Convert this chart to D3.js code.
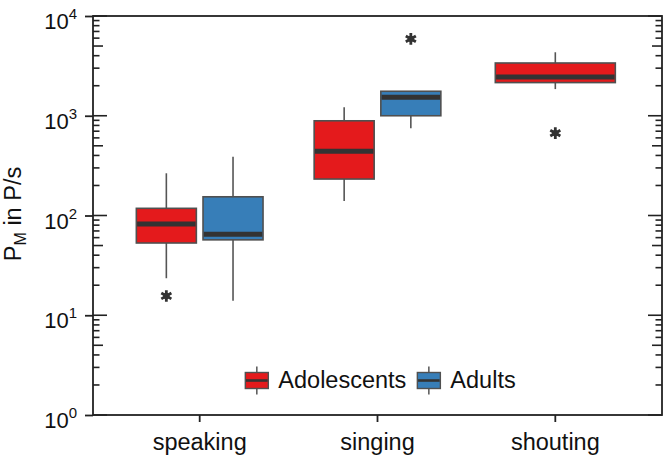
<!DOCTYPE html>
<html><head><meta charset="utf-8">
<script src="https://cdn.jsdelivr.net/npm/d3@7"></script>
<style>body{margin:0;background:#fff}svg{display:block}</style>
</head><body>
<svg id="chart" width="666" height="458"></svg>
<script>
// ---- data ----
const categories = ["speaking", "singing", "shouting"];
const groups = ["Adolescents", "Adults"];
const groupColors = ["#E41A1C", "#377EB8"];
const boxCategory = ["speaking", "speaking", "singing", "singing", "shouting"];
const boxGroup = ["Adolescents", "Adults", "Adolescents", "Adults", "Adolescents"];
const whiskerLow = [23.5, 14, 140, 750, 1850];
const q1 = [53, 57, 232, 1000, 2150];
const median = [82, 65, 440, 1530, 2450];
const q3 = [118, 154, 890, 1760, 3380];
const whiskerHigh = [265, 388, 1215, 1760, 4330];
const outlierBox = [0, 3, 4];
const outlierValue = [15.6, 5900, 670];
const yTickValues = [1, 10, 100, 1000, 10000];
const yTickBase = "10";
const yTickExponents = ["0", "1", "2", "3", "4"];
const yTitleMain = "P", yTitleSub = "M", yTitleRest = " in P/s";

(function () {
// ---- layout ----
const W = 666, H = 458;
const pL = 93, pR = 662, pT = 16, pB = 415;
const FONT = "'Liberation Sans', Arial, Helvetica, sans-serif";
const svg = d3.select("#chart");
svg.append("rect").attr("width", W).attr("height", H).attr("fill", "#fff");

const x = d3.scaleBand().domain(categories).range([pL, pR]).paddingInner(0).paddingOuter(0.1);
const y = d3.scaleLog().domain([1, 10000]).range([pB, pT]);
const color = d3.scaleOrdinal().domain(groups).range(groupColors);

// boxes (dodge)
const boxes = boxCategory.map((c, i) => ({
  c, g: boxGroup[i], lo: whiskerLow[i], q1: q1[i], med: median[i], q3: q3[i], hi: whiskerHigh[i]
}));
const dodgeTotal = 0.75 * x.step();
boxes.forEach(b => {
  const inCat = boxes.filter(o => o.c === b.c);
  const n = inCat.length, idx = inCat.indexOf(b);
  const slot = dodgeTotal / n;
  b.cx = x(b.c) + x.bandwidth() / 2 - dodgeTotal / 2 + slot * (idx + 0.5);
  b.w = slot * 0.9;
});

const gBox = svg.append("g");
const bg = gBox.selectAll("g.box").data(boxes).join("g").attr("class", "box");
bg.append("line").attr("x1", d => d.cx).attr("x2", d => d.cx)
  .attr("y1", d => y(d.hi)).attr("y2", d => y(d.q3))
  .attr("stroke", "#555").attr("stroke-width", 1.6);
bg.append("line").attr("x1", d => d.cx).attr("x2", d => d.cx)
  .attr("y1", d => y(d.q1)).attr("y2", d => y(d.lo))
  .attr("stroke", "#555").attr("stroke-width", 1.6);
bg.append("rect").attr("x", d => d.cx - d.w / 2).attr("width", d => d.w)
  .attr("y", d => y(d.q3)).attr("height", d => y(d.q1) - y(d.q3))
  .attr("fill", d => color(d.g)).attr("stroke", "#505050").attr("stroke-width", 1.6);
bg.append("line").attr("x1", d => d.cx - d.w / 2 + 0.8).attr("x2", d => d.cx + d.w / 2 - 0.8)
  .attr("y1", d => y(d.med)).attr("y2", d => y(d.med))
  .attr("stroke", "#333").attr("stroke-width", 5);

// outliers
const outl = outlierBox.map((b, i) => ({ b: boxes[b], v: outlierValue[i] }));
const star = d3.symbol().type(d3.symbolAsterisk).size(95);
svg.append("g").selectAll("path").data(outl).join("path")
  .attr("transform", d => `translate(${d.b.cx},${y(d.v)})`)
  .attr("d", star()).attr("stroke", "#333").attr("stroke-width", 2.8).attr("fill", "none");
svg.append("g").selectAll("circle").data(outl).join("circle")
  .attr("cx", d => d.b.cx).attr("cy", d => y(d.v)).attr("r", 3.2).attr("fill", "#333");

// log ticks (inside, left and right)
const logTicks = [];
for (let e = 0; e < 4; e++) {
  const d = Math.pow(10, e);
  for (let k = 2; k <= 9; k++) logTicks.push({ v: k * d, len: k === 5 ? 10 : 6.5 });
}
yTickValues.forEach(v => logTicks.push({ v, len: 14 }));
const lt = svg.append("g").attr("stroke", "#222").attr("stroke-width", 1.6);
lt.selectAll("line.l").data(logTicks).join("line").attr("class", "l")
  .attr("x1", pL).attr("x2", d => pL + d.len)
  .attr("y1", d => y(d.v)).attr("y2", d => y(d.v));
lt.selectAll("line.r").data(logTicks).join("line").attr("class", "r")
  .attr("x1", pR).attr("x2", d => pR - d.len)
  .attr("y1", d => y(d.v)).attr("y2", d => y(d.v));

// left axis
const yAxis = svg.append("g").attr("transform", `translate(${pL},0)`)
  .call(d3.axisLeft(y).tickValues(yTickValues).tickSize(8).tickSizeOuter(0).tickPadding(8));
yAxis.select(".domain").remove();
yAxis.selectAll(".tick line").attr("stroke", "#222").attr("stroke-width", 1.8);
yAxis.selectAll(".tick text").each(function (d) {
  const t = d3.select(this).text(null).attr("dy", null).attr("y", 12.5)
    .attr("x", -16).attr("font-family", FONT).attr("font-size", 22).attr("fill", "#111");
  t.append("tspan").text(yTickBase);
  t.append("tspan").attr("dy", -10).attr("font-size", 15).text(yTickExponents[yTickValues.indexOf(d)]);
});

// bottom axis
const xAxis = svg.append("g").attr("transform", `translate(0,${pB})`)
  .call(d3.axisBottom(x).tickSize(7).tickSizeOuter(0).tickPadding(11));
xAxis.select(".domain").remove();
xAxis.selectAll(".tick line").attr("stroke", "#222").attr("stroke-width", 1.8);
xAxis.selectAll(".tick text").attr("font-family", FONT).attr("font-size", 23.5).attr("fill", "#111");

// frame
svg.append("rect").attr("x", pL).attr("y", pT).attr("width", pR - pL).attr("height", pB - pT)
  .attr("fill", "none").attr("stroke", "#222").attr("stroke-width", 1.8);

// y title
const yt = svg.append("text").attr("transform", `translate(21,214) rotate(-90)`)
  .attr("text-anchor", "middle").attr("font-family", FONT).attr("font-size", 23.5).attr("fill", "#111");
yt.append("tspan").text(yTitleMain);
yt.append("tspan").attr("dy", 5).attr("font-size", 16).text(yTitleSub);
yt.append("tspan").attr("dy", -5).text(yTitleRest);

// legend
const lg = svg.append("g");
const keyW = 23, keyH = 16, keyGap = 10, itemGap = 11;
const items = groups.map(g => ({ g }));
const tmp = lg.append("text").attr("font-family", FONT).attr("font-size", 23.5);
items.forEach(it => { tmp.text(it.g); it.tw = tmp.node().getComputedTextLength(); });
tmp.remove();
const totalW = d3.sum(items, it => keyW + keyGap + it.tw) + itemGap * (items.length - 1);
let cx0 = (pL + pR) / 2 + 3 - totalW / 2;
const keyY = 372.5;
items.forEach(it => {
  const gi = lg.append("g").attr("transform", `translate(${cx0},0)`);
  gi.append("line").attr("x1", keyW / 2).attr("x2", keyW / 2).attr("y1", keyY - 6).attr("y2", keyY + keyH + 6)
    .attr("stroke", "#555").attr("stroke-width", 1.5);
  gi.append("rect").attr("x", 0).attr("y", keyY).attr("width", keyW).attr("height", keyH)
    .attr("fill", color(it.g)).attr("stroke", "#505050").attr("stroke-width", 1.4);
  gi.append("line").attr("x1", 0.7).attr("x2", keyW - 0.7).attr("y1", keyY + keyH / 2).attr("y2", keyY + keyH / 2)
    .attr("stroke", "#333").attr("stroke-width", 2.6);
  gi.append("text").attr("x", keyW + keyGap).attr("y", 388).attr("font-family", FONT).attr("font-size", 23.5)
    .attr("fill", "#111").text(it.g);
  cx0 += keyW + keyGap + it.tw + itemGap;
});
})();
</script>
</body></html>
